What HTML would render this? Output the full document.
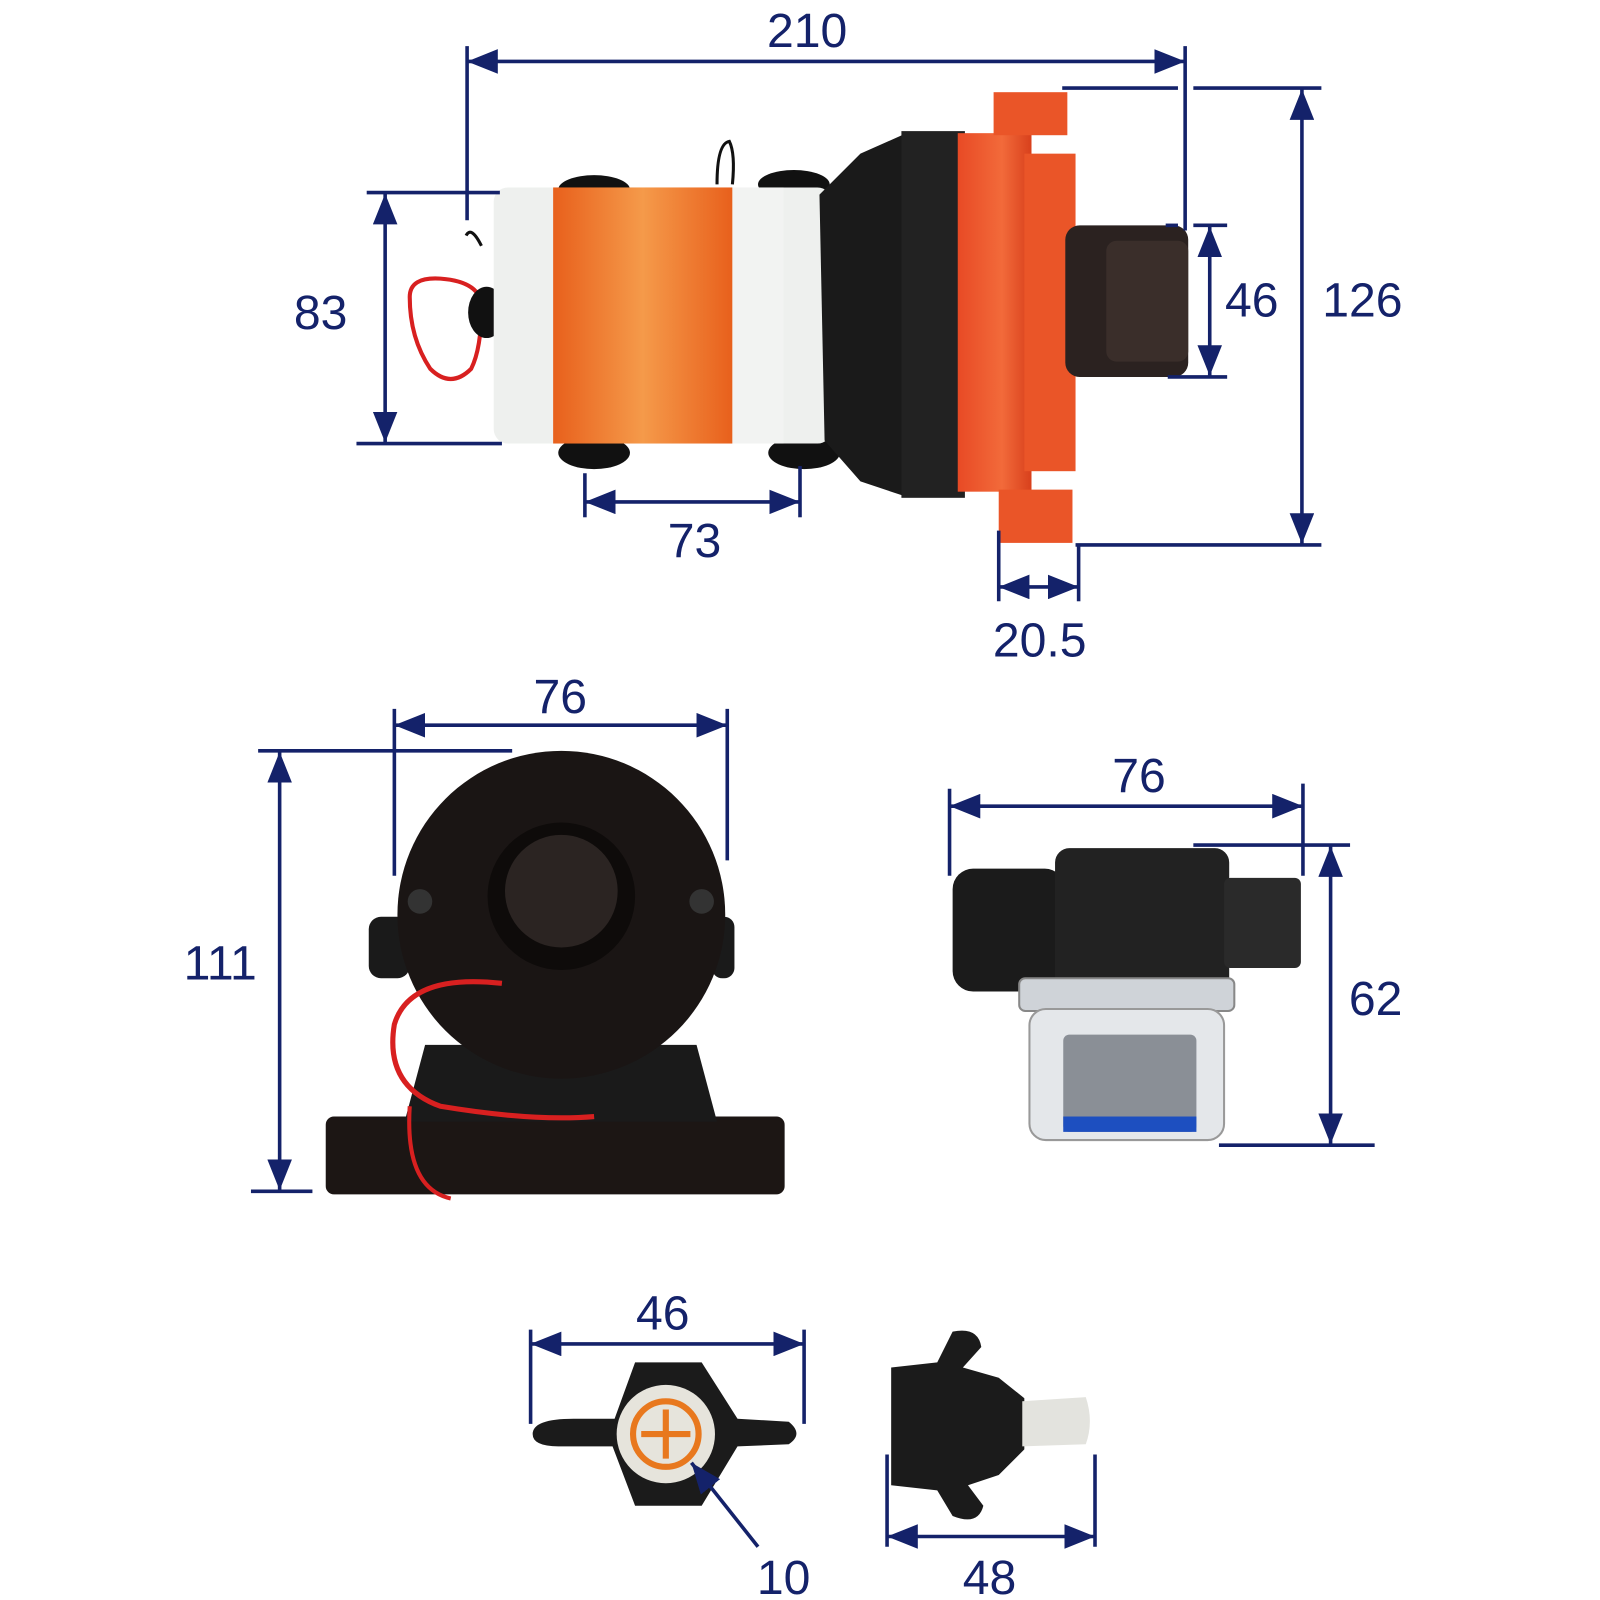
<!DOCTYPE html>
<html><head><meta charset="utf-8"><style>
html,body{margin:0;padding:0;background:#fff;}
svg{display:block;}
text{font-family:"Liberation Sans",sans-serif;fill:#14226a;font-size:47px;text-anchor:middle;}
</style></head><body>
<svg width="1600" height="1600" viewBox="0 0 1562 1562" xmlns="http://www.w3.org/2000/svg">
<defs>
<marker id="a" viewBox="0 0 30 24" refX="30" refY="12" markerWidth="30" markerHeight="24" markerUnits="userSpaceOnUse" orient="auto-start-reverse"><path d="M0 0 L30 12 L0 24 Z" fill="#14226a"/></marker>
<linearGradient id="org" x1="0" x2="1"><stop offset="0" stop-color="#e8601c"/><stop offset="0.5" stop-color="#f59a4a"/><stop offset="1" stop-color="#e8601c"/></linearGradient>
<linearGradient id="red" x1="0" x2="1"><stop offset="0" stop-color="#e84a25"/><stop offset="0.6" stop-color="#f26a3a"/><stop offset="1" stop-color="#d8401c"/></linearGradient>
</defs>

<!-- TOP PUMP -->
<path d="M400 290 Q400 270 430 272 Q470 275 470 300 Q470 340 460 360 Q440 380 420 360 Q400 330 400 290Z" fill="none" stroke="#d82020" stroke-width="4"/>
<path d="M455 230 Q460 220 470 240" fill="none" stroke="#111" stroke-width="3"/>
<path d="M700 180 Q700 140 712 138 Q718 150 715 180" fill="none" stroke="#111" stroke-width="3"/>
<ellipse cx="475" cy="305" rx="18" ry="25" fill="#111"/>
<ellipse cx="580" cy="185" rx="35" ry="14" fill="#111"/>
<ellipse cx="775" cy="180" rx="35" ry="14" fill="#111"/>
<ellipse cx="580" cy="442" rx="35" ry="16" fill="#111"/>
<ellipse cx="785" cy="442" rx="35" ry="16" fill="#111"/>
<rect x="482" y="183" width="330" height="250" rx="14" fill="#eef0ee"/>
<rect x="540" y="183" width="175" height="250" fill="url(#org)"/>
<rect x="715" y="183" width="50" height="250" fill="#f2f3f2"/>
<path d="M800 190 L840 150 L885 130 L885 485 L840 470 L805 430 Z" fill="#1a1a1a"/>
<rect x="880" y="128" width="62" height="358" fill="#222"/>
<rect x="935" y="130" width="72" height="350" fill="url(#red)"/>
<rect x="1000" y="150" width="50" height="310" fill="#ea5528"/>
<rect x="970" y="90" width="72" height="42" fill="#ea5528"/>
<rect x="975" y="478" width="72" height="52" fill="#ea5528"/>
<rect x="1040" y="220" width="120" height="148" rx="14" fill="#2b2220"/>
<rect x="1080" y="235" width="80" height="118" rx="10" fill="#3a2e2a"/>

<!-- LEFT FRONT PUMP -->
<rect x="318" y="1090" width="448" height="76" rx="8" fill="#1c1614"/>
<path d="M415 1020 L680 1020 L700 1095 L395 1095 Z" fill="#1a1a1a"/>
<rect x="360" y="895" width="40" height="60" rx="12" fill="#1a1a1a"/>
<rect x="695" y="895" width="22" height="60" rx="10" fill="#1a1a1a"/>
<circle cx="548" cy="893" r="160" fill="#1a1514"/>
<circle cx="548" cy="875" r="72" fill="#0e0b0a"/>
<circle cx="548" cy="870" r="55" fill="#2b2422"/>
<circle cx="410" cy="880" r="12" fill="#333"/>
<circle cx="685" cy="880" r="12" fill="#333"/>
<path d="M490 960 Q400 950 385 1000 Q375 1060 430 1080 Q520 1095 580 1090" fill="none" stroke="#d82020" stroke-width="5"/>
<path d="M400 1080 Q395 1160 440 1170" fill="none" stroke="#d82020" stroke-width="4"/>

<!-- FILTER -->
<rect x="930" y="848" width="110" height="120" rx="20" fill="#1b1b1b"/>
<rect x="1030" y="828" width="170" height="140" rx="14" fill="#222"/>
<rect x="1195" y="857" width="75" height="88" rx="6" fill="#2a2a2a"/>
<rect x="995" y="955" width="210" height="32" rx="6" fill="#cfd3d8" stroke="#888" stroke-width="2"/>
<rect x="1005" y="985" width="190" height="128" rx="16" fill="#e4e7ea" stroke="#999" stroke-width="2"/>
<rect x="1038" y="1010" width="130" height="95" rx="6" fill="#8a8f96"/>
<rect x="1038" y="1090" width="130" height="15" fill="#1d4fc0"/>

<!-- HEX NUT -->
<path d="M520 1400 Q520 1385 560 1385 L600 1385 L620 1330 L685 1330 L720 1385 L770 1388 Q785 1400 770 1410 L720 1412 L685 1470 L620 1470 L598 1412 L545 1412 Q520 1412 520 1400Z" fill="#1b1b1b"/>
<circle cx="650" cy="1400" r="48" fill="#e6e4dc"/>
<circle cx="650" cy="1400" r="32" fill="none" stroke="#e8781e" stroke-width="6"/>
<path d="M650 1376 V1424 M626 1400 H674" stroke="#e8781e" stroke-width="6"/>

<!-- BARB FITTING -->
<path d="M915 1330 L930 1300 Q955 1295 958 1315 L940 1335 L975 1345 L1000 1365 L1000 1415 L975 1440 L945 1450 L960 1470 Q955 1490 930 1480 L915 1455 L870 1450 L870 1335 Z" fill="#1b1b1b"/>
<path d="M998 1368 L1060 1364 Q1068 1388 1060 1410 L998 1412 Z" fill="#e3e3de"/>

<!-- DIMENSIONS -->
<g stroke="#14226a" stroke-width="3.5" fill="none">
<!-- 210 -->
<line x1="456" y1="45" x2="456" y2="215"/><line x1="1157" y1="45" x2="1157" y2="225"/>
<line x1="456" y1="60" x2="1157" y2="60" marker-start="url(#a)" marker-end="url(#a)"/>
<!-- 126 -->
<line x1="1037" y1="86" x2="1150" y2="86"/><line x1="1165" y1="86" x2="1290" y2="86"/>
<line x1="1050" y1="532" x2="1290" y2="532"/>
<line x1="1271" y1="87" x2="1271" y2="531" marker-start="url(#a)" marker-end="url(#a)"/>
<!-- 46 right -->
<line x1="1138" y1="220" x2="1150" y2="220"/><line x1="1165" y1="220" x2="1198" y2="220"/>
<line x1="1140" y1="368" x2="1198" y2="368"/>
<line x1="1181" y1="221" x2="1181" y2="367" marker-start="url(#a)" marker-end="url(#a)"/>
<!-- 83 -->
<line x1="358" y1="188" x2="488" y2="188"/><line x1="348" y1="433" x2="490" y2="433"/>
<line x1="376" y1="189" x2="376" y2="432" marker-start="url(#a)" marker-end="url(#a)"/>
<!-- 73 -->
<line x1="571" y1="462" x2="571" y2="505"/><line x1="781" y1="455" x2="781" y2="505"/>
<line x1="571" y1="490" x2="781" y2="490" marker-start="url(#a)" marker-end="url(#a)"/>
<!-- 20.5 -->
<line x1="975" y1="518" x2="975" y2="587"/><line x1="1053" y1="532" x2="1053" y2="587"/>
<line x1="975" y1="573" x2="1053" y2="573" marker-start="url(#a)" marker-end="url(#a)"/>
<!-- 76 left -->
<line x1="385" y1="692" x2="385" y2="855"/><line x1="710" y1="692" x2="710" y2="840"/>
<line x1="385" y1="708" x2="710" y2="708" marker-start="url(#a)" marker-end="url(#a)"/>
<!-- 111 -->
<line x1="252" y1="733" x2="500" y2="733"/><line x1="245" y1="1163" x2="305" y2="1163"/>
<line x1="273" y1="734" x2="273" y2="1162" marker-start="url(#a)" marker-end="url(#a)"/>
<!-- 76 right -->
<line x1="927" y1="770" x2="927" y2="855"/><line x1="1272" y1="765" x2="1272" y2="855"/>
<line x1="927" y1="787" x2="1272" y2="787" marker-start="url(#a)" marker-end="url(#a)"/>
<!-- 62 -->
<line x1="1165" y1="825" x2="1318" y2="825"/><line x1="1190" y1="1118" x2="1342" y2="1118"/>
<line x1="1299" y1="826" x2="1299" y2="1117" marker-start="url(#a)" marker-end="url(#a)"/>
<!-- 46 bottom -->
<line x1="518" y1="1298" x2="518" y2="1390"/><line x1="785" y1="1298" x2="785" y2="1390"/>
<line x1="518" y1="1312" x2="785" y2="1312" marker-start="url(#a)" marker-end="url(#a)"/>
<!-- 48 -->
<line x1="866" y1="1420" x2="866" y2="1510"/><line x1="1069" y1="1420" x2="1069" y2="1510"/>
<line x1="866" y1="1500" x2="1069" y2="1500" marker-start="url(#a)" marker-end="url(#a)"/>
<!-- 10 -->
<line x1="740" y1="1510" x2="675" y2="1428" marker-end="url(#a)"/>
</g>
<text x="788" y="46">210</text>
<text x="1330" y="309">126</text>
<text x="1222" y="309">46</text>
<text x="313" y="321">83</text>
<text x="678" y="544">73</text>
<text x="1015" y="641">20.5</text>
<text x="547" y="696">76</text>
<text x="215" y="956">111</text>
<text x="1112" y="773">76</text>
<text x="1343" y="991">62</text>
<text x="647" y="1298">46</text>
<text x="966" y="1556">48</text>
<text x="765" y="1556">10</text>
</svg>
</body></html>
